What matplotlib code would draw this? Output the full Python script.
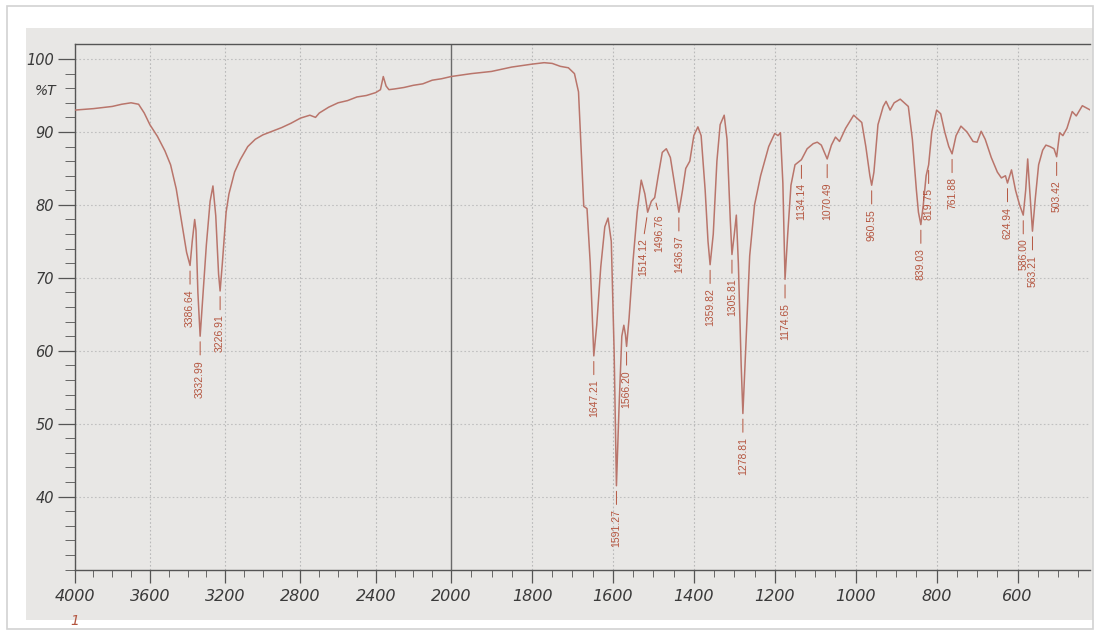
import numpy as np
import matplotlib
matplotlib.use("Agg")
import matplotlib.pyplot as plt
from matplotlib.ticker import FixedLocator, NullFormatter
from matplotlib.patches import Rectangle
import matplotlib.transforms as mtransforms

# ---- data ----
wavenumber = [4000, 3900, 3800, 3750, 3700, 3660, 3630, 3600, 3560, 3520,
              3490, 3460, 3430, 3405, 3386.64, 3375, 3362, 3355, 3345, 3332.99,
              3320, 3300, 3280, 3265, 3250, 3235, 3226.91, 3215, 3195, 3180,
              3150, 3120, 3080, 3040, 3000, 2950, 2900, 2850, 2800, 2750,
              2720, 2700, 2650, 2600, 2550, 2500, 2450, 2400, 2375, 2360,
              2345, 2330, 2300, 2250, 2200, 2150, 2100, 2050, 2000, 1950,
              1900, 1850, 1800, 1770, 1750, 1730, 1710, 1695, 1685, 1678,
              1672, 1664, 1656, 1647.21, 1640, 1630, 1620, 1612, 1604, 1597,
              1591.27, 1585, 1578, 1573, 1569, 1566.20, 1560, 1550, 1540, 1530,
              1521, 1514.12, 1505, 1496.76, 1488, 1478, 1468, 1458, 1448, 1436.97,
              1428, 1420, 1410, 1400, 1390, 1382, 1372, 1365, 1359.82, 1352,
              1343, 1335, 1325, 1318, 1310, 1305.81, 1300, 1295, 1290, 1283,
              1278.81, 1272, 1262, 1250, 1235, 1215, 1200, 1192, 1186, 1180,
              1174.65, 1168, 1160, 1150, 1134.14, 1120, 1105, 1095, 1085, 1070.49,
              1060, 1050, 1040, 1025, 1005, 995, 985, 975, 965, 960.55,
              955, 945, 932, 925, 915, 905, 890, 880, 870, 860,
              850, 845, 839.03, 833, 826, 819.75, 812, 800, 790, 780,
              770, 761.88, 752, 740, 725, 710, 700, 690, 680, 665,
              650, 640, 630, 624.94, 615, 605, 595, 586.00, 580, 575,
              570, 563.21, 556, 548, 538, 530, 520, 510, 503.42, 496,
              488, 478, 465, 455, 440, 430, 420]

transmittance = [93.0, 93.2, 93.5, 93.8, 94.0, 93.8, 92.6, 91.0, 89.4, 87.4,
                 85.5, 82.2, 77.5, 73.5, 71.7, 75.0, 78.0, 76.5, 68.0, 62.0,
                 67.0, 74.5, 80.5, 82.6, 78.5, 70.5, 68.2, 72.0, 79.0, 81.5,
                 84.5, 86.2, 88.0, 89.0, 89.6, 90.1, 90.6, 91.2, 91.9, 92.3,
                 92.0, 92.6, 93.4, 94.0, 94.3, 94.8, 95.0, 95.4, 95.8, 97.6,
                 96.3, 95.8, 95.9, 96.1, 96.4, 96.6, 97.1, 97.3, 97.6, 98.0,
                 98.3, 98.9, 99.3, 99.5, 99.4, 99.0, 98.8, 98.0, 95.5, 87.0,
                 79.8, 79.5, 72.0, 59.3, 63.5, 71.5, 77.0, 78.2, 75.0, 60.0,
                 41.5, 52.0, 62.0, 63.5, 62.2, 60.6, 64.5, 72.5, 79.0, 83.4,
                 81.5, 79.0, 80.5, 81.0, 84.0, 87.2, 87.7, 86.5, 83.0, 79.0,
                 82.0, 85.0, 86.0, 89.5, 90.7, 89.5, 82.0, 75.0, 71.8, 76.0,
                 86.0, 91.0, 92.3, 89.0, 78.0, 73.2, 76.0, 78.6, 72.0, 58.0,
                 51.4, 60.0, 73.0, 80.0, 84.0, 88.0, 89.8, 89.5, 89.9, 83.0,
                 69.8, 76.0, 82.7, 85.5, 86.2, 87.7, 88.4, 88.6, 88.2, 86.3,
                 88.2, 89.3, 88.7, 90.5, 92.3, 91.8, 91.3, 88.0, 84.0, 82.7,
                 84.5, 91.0, 93.5, 94.2, 93.0, 94.0, 94.5, 94.0, 93.5, 89.0,
                 82.0, 79.0, 77.3, 80.0, 84.0, 85.5, 90.0, 93.0, 92.5, 90.0,
                 88.0, 87.0, 89.5, 90.8, 90.0, 88.7, 88.6, 90.1, 89.0, 86.5,
                 84.5, 83.7, 84.0, 83.0, 84.8, 82.0, 80.0, 78.6, 82.0, 86.3,
                 82.0, 76.4, 81.0, 85.5, 87.5, 88.2, 88.0, 87.7, 86.6, 89.9,
                 89.5, 90.5, 92.8, 92.2, 93.6, 93.3, 93.0]

peak_wn = [3386.64, 3332.99, 3226.91, 1647.21, 1591.27, 1566.20, 1514.12,
           1496.76, 1436.97, 1359.82, 1305.81, 1278.81, 1174.65, 1134.14,
           1070.49, 960.55, 839.03, 819.75, 761.88, 624.94, 586.00, 563.21,
           503.42]
peak_labels = ["3386.64", "3332.99", "3226.91", "1647.21", "1591.27", "1566.20",
               "1514.12", "1496.76", "1436.97", "1359.82", "1305.81", "1278.81",
               "1174.65", "1134.14", "1070.49", "960.55", "839.03", "819.75",
               "761.88", "624.94", "586.00", "563.21", "503.42"]

x_major = [4000, 3600, 3200, 2800, 2400, 2000, 1800, 1600, 1400, 1200, 1000, 800, 600]
y_major = [40, 50, 60, 70, 80, 90, 100]

# ---- style ----
LINE_C = "#b9756b"
LABEL_C = "#b4553f"
PAPER = "#e8e7e5"
TEXT_C = "#3a3a3a"
label_font = ["Liberation Sans Narrow", "Liberation Sans", "DejaVu Sans"]
label_shift = {"1514.12": (-3, -19), "1496.76": (3, -12)}  # offsets in points

EXPAND = 2.15


def fwd(x):
    x = np.asarray(x, dtype=float)
    return np.where(x > 2000, 2000 + (x - 2000) / EXPAND, x)


def inv(y):
    y = np.asarray(y, dtype=float)
    return np.where(y > 2000, 2000 + (y - 2000) * EXPAND, y)


fig = plt.figure(figsize=(10.97, 6.35), dpi=100, facecolor="white")
fig.patches.append(Rectangle((0.024, 0.024), 0.972, 0.932, transform=fig.transFigure,
                             facecolor=PAPER, edgecolor="none", zorder=-10))
fig.patches.append(Rectangle((0.006, 0.010), 0.990, 0.980, transform=fig.transFigure,
                             facecolor="none", edgecolor="#d2d2d2", lw=1.2, zorder=-9))

ax = fig.add_axes([0.068, 0.103, 0.926, 0.827])
ax.set_facecolor("none")
ax.set_xscale("function", functions=(fwd, inv))
ax.set_xlim(4000, 420)
ax.set_ylim(30, 102)

# grid
for xv in x_major:
    if xv == 2000:
        ax.axvline(xv, color="#6a6a6a", lw=1.0, zorder=1)
    else:
        ax.axvline(xv, color="#b9b9b9", lw=0.8, ls=(0, (1.5, 2)), zorder=0)
for yv in y_major:
    ax.axhline(yv, color="#c0c0c0", lw=0.8, ls=(0, (1.5, 2)), zorder=0)

ax.plot(wavenumber, transmittance, color=LINE_C, lw=1.1, zorder=3)

# peak labels
lookup = dict(zip(wavenumber, transmittance))
for wn, lab in zip(peak_wn, peak_labels):
    t = lookup[wn]
    dx, dy = label_shift.get(lab, (0, -17))
    ax.annotate(lab, xy=(wn, t), xytext=(dx, dy), textcoords="offset points",
                rotation=90, ha="center", va="top", fontsize=7.5,
                family=label_font, color=LABEL_C, zorder=4,
                arrowprops=dict(arrowstyle="-", color=LABEL_C, lw=0.7,
                                shrinkA=1.5, shrinkB=4, relpos=(0.5, 1.0)))

# axes styling
ax.spines["right"].set_visible(False)
for s in ("left", "bottom", "top"):
    ax.spines[s].set_color("#555555")
    ax.spines[s].set_linewidth(1.0)

ax.xaxis.set_major_locator(FixedLocator(x_major))
ax.xaxis.set_minor_locator(FixedLocator(
    list(range(4000, 2000, -100)) + list(range(2000, 400, -50))))
ax.yaxis.set_major_locator(FixedLocator(y_major))
ax.yaxis.set_minor_locator(FixedLocator(list(range(30, 101, 2))))
ax.xaxis.set_minor_formatter(NullFormatter())
ax.set_xticklabels([str(v) for v in x_major])
ax.set_yticklabels([str(v) for v in y_major])

ax.tick_params(axis="x", which="major", direction="out", length=9, width=0.9,
               color="#555555", labelsize=11.5, labelcolor=TEXT_C, pad=5)
ax.tick_params(axis="x", which="minor", direction="out", length=5, width=0.7,
               color="#666666")
ax.tick_params(axis="y", which="major", direction="out", length=12, width=0.9,
               color="#555555", labelsize=10.5, labelcolor=TEXT_C, pad=3)
ax.tick_params(axis="y", which="minor", direction="out", length=7, width=0.7,
               color="#666666")
for lbl in ax.get_xticklabels() + ax.get_yticklabels():
    lbl.set_fontstyle("italic")

trans_y = mtransforms.blended_transform_factory(ax.transAxes, ax.transData)
ax.text(-0.018, 95.6, "%T", transform=trans_y, ha="right", va="center",
        fontsize=10, fontstyle="italic", color=TEXT_C)
trans_x = mtransforms.blended_transform_factory(ax.transData, ax.transAxes)
ax.text(4000, -0.085, "1", transform=trans_x, ha="center", va="top",
        fontsize=10, fontstyle="italic", color="#b4553f")

fig.savefig("out.png", dpi=100, facecolor="white")
